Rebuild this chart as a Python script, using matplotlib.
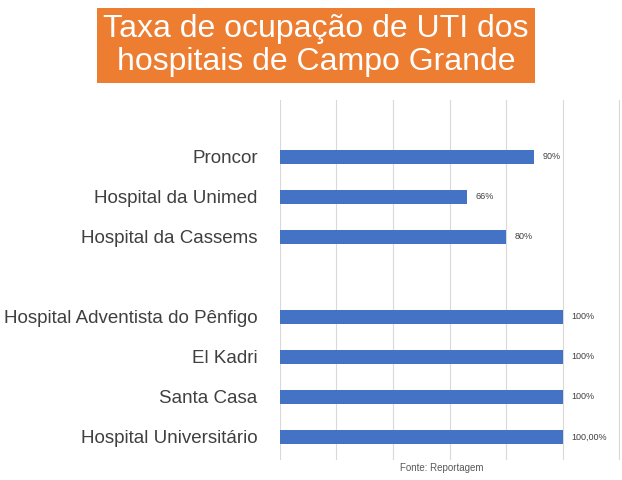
import matplotlib.pyplot as plt

hospitais = ["Proncor", "Hospital da Unimed", "Hospital da Cassems", "",
             "Hospital Adventista do Pênfigo", "El Kadri", "Santa Casa",
             "Hospital Universitário"]
ocupacao = [90, 66, 80, None, 100, 100, 100, 100]
rotulos = ["90%", "66%", "80%", "", "100%", "100%", "100%", "100,00%"]

plt.rcParams["font.family"] = "Liberation Sans"
fig = plt.figure(figsize=(6.22, 4.8), dpi=100)
ax = fig.add_axes([0.450, 0.042, 0.547, 0.75])

for i, (v, r) in enumerate(zip(ocupacao, rotulos)):
    if v is None:
        continue
    ax.barh(i, v, height=0.36, color="#4472C4")
    ax.text(v + 3, i, r, va="center", ha="left", fontsize=6.5, color="#404040")

ax.set_yticks(range(len(hospitais)))
ax.set_yticklabels(hospitais, fontsize=13.5, color="#404040")
ax.set_xlim(0, 120.3)
ax.set_ylim(7.575, -1.425)
ax.set_xticks(range(0, 121, 20))
ax.tick_params(axis="x", labelbottom=False, length=0)
ax.tick_params(axis="y", length=0, pad=16)
ax.grid(axis="x", color="#d9d9d9", linewidth=0.8)
ax.set_axisbelow(True)
for s in ax.spines.values():
    s.set_visible(False)

fig.text(0.508, 0.905, "Taxa de ocupação de UTI dos\nhospitais de Campo Grande",
         ha="center", va="center", fontsize=23, color="white", linespacing=1.1,
         bbox=dict(boxstyle="square,pad=0.2", facecolor="#ED7D31", edgecolor="none"))
fig.text(0.71, 0.025, "Fonte: Reportagem", ha="center", va="center",
         fontsize=7, color="#595959")

fig.savefig("out.png", dpi=100)
